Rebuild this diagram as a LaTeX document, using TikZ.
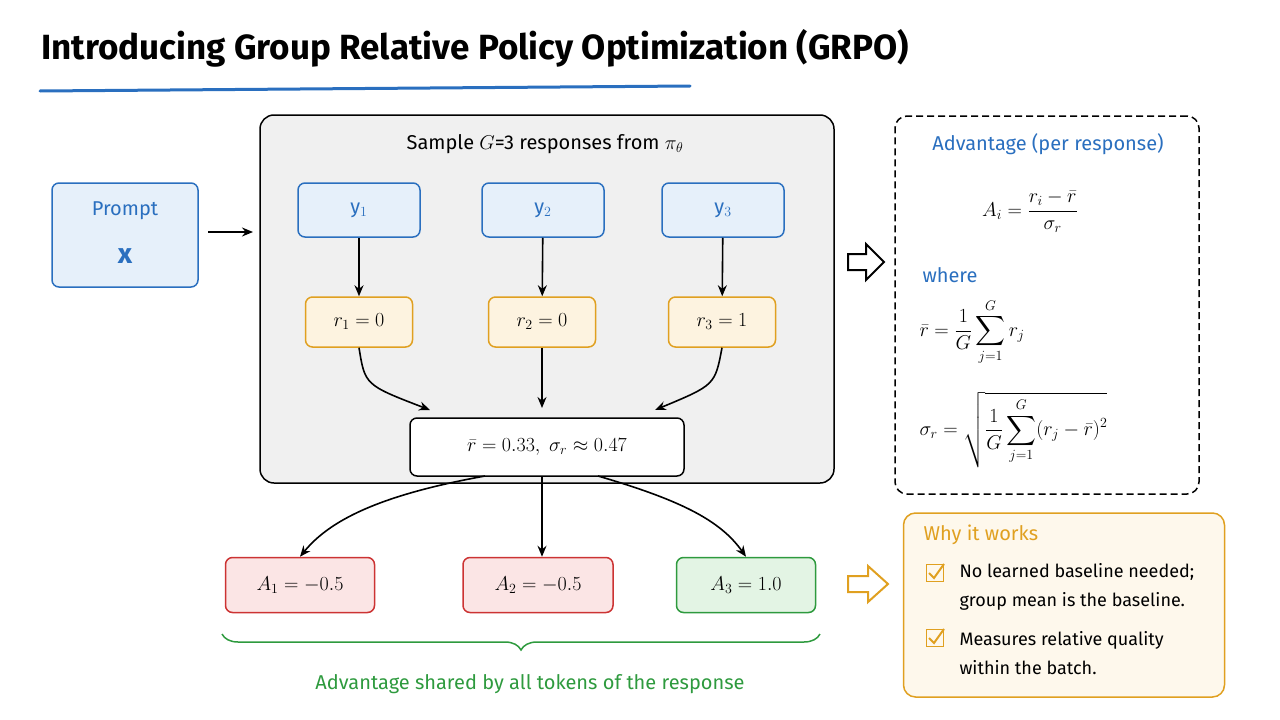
\RequirePackage{fix-cm}
\documentclass[tikz,border=0pt]{standalone}
\usepackage{fontspec}
\setmainfont{Fira Sans}
\usepackage{amsmath}
\usetikzlibrary{decorations.pathreplacing,arrows.meta}
\definecolor{bl}{HTML}{2A6FBF}
\definecolor{blf}{HTML}{E6F0FA}
\definecolor{org}{HTML}{E0A020}
\definecolor{orf}{HTML}{FDF3E0}
\definecolor{rd}{HTML}{CC3333}
\definecolor{rdf}{HTML}{FBE5E5}
\definecolor{gn}{HTML}{2E9A3E}
\definecolor{gnf}{HTML}{E3F4E4}
\definecolor{gy}{HTML}{F0F0F0}
\begin{document}
\begin{tikzpicture}[x=1pt,y=-1pt,
  box/.style={draw,rounded corners=7pt,line width=1.5pt},
  blue box/.style={box,draw=bl,fill=blf},
  or box/.style={box,draw=org,fill=orf},
  red box/.style={box,draw=rd,fill=rdf},
  gr box/.style={box,draw=gn,fill=gnf},
  lbl/.style={font=\fontsize{20}{24}\selectfont},
  arr/.style={-{Stealth[length=11pt,width=9pt]},line width=1.6pt},
  hollow/.style={draw,line width=2pt,line join=miter}]
\useasboundingbox (0,0) rectangle (1280,720);
\node[anchor=west,font=\fontsize{35}{40}\selectfont\bfseries] (title) at (38,48) {Introducing Group Relative Policy Optimization (GRPO)};
\draw[bl,line width=3pt,line cap=round] (40,91) -- (690,86);
% prompt
\node[blue box,minimum width=146pt,minimum height=104pt] (prompt) at (125,235) {};
\node[lbl,text=bl] (ptxt) at (125,211) {Prompt};
\node[font=\fontsize{28}{30}\selectfont\bfseries,text=bl] (px) at (125,256) {x};
% group box
\node[box,draw=black,fill=gy,rounded corners=14pt,minimum width=574pt,minimum height=368pt] (grp) at (547,299) {};
\coordinate (pa) at (208,232);
\coordinate (pb) at (253,232);
\draw[arr] (pa) -- (pb);
\node[lbl] (samp) at (545,144) {Sample $G$=3 responses from $\pi_\theta$};
\foreach \i/\x in {1/359,2/543,3/723}{
  \node[blue box,minimum width=122pt,minimum height=54pt,lbl,text=bl] (y\i) at (\x,210) {y$_\i$};
}
\node[or box,minimum width=107pt,minimum height=50pt,lbl] (r1) at (359,322) {$r_1=0$};
\node[or box,minimum width=107pt,minimum height=50pt,lbl] (r2) at (542,322) {$r_2=0$};
\node[or box,minimum width=107pt,minimum height=50pt,lbl] (r3) at (722,322) {$r_3=1$};
\foreach \i in {1,2,3}{\draw[arr] (y\i) -- (r\i);}
\node[box,draw=black,fill=white,minimum width=274pt,minimum height=58pt,lbl] (st) at (547,447) {$\bar r=0.33,\ \sigma_r\approx0.47$};
\coordinate (s1) at (430,410);
\coordinate (s2) at (542,408);
\coordinate (s3) at (655,410);
\draw[arr] (r1.south) .. controls (365,385) .. (s1);
\draw[arr] (r2.south) -- (s2);
\draw[arr] (r3.south) .. controls (715,385) .. (s3);
% advantages
\node[red box,minimum width=149pt,minimum height=55pt,lbl] (a1) at (300,585) {$A_1=-0.5$};
\node[red box,minimum width=150pt,minimum height=55pt,lbl] (a2) at (538,585) {$A_2=-0.5$};
\node[gr box,minimum width=139pt,minimum height=55pt,lbl] (a3) at (746,585) {$A_3=1.0$};
\coordinate (o1) at (485,476);
\coordinate (o3) at (598,476);
\draw[arr] (o1) .. controls (380,495) and (330,520) .. (a1.north);
\draw[arr] (st.south -| r2) -- (a2.north -| r2);
\draw[arr] (o3) .. controls (680,500) and (720,520) .. (a3.north);
\draw[gn,line width=1.5pt,decorate,decoration={brace,amplitude=16pt,mirror}] (222,634) -- (820,634);
\node[lbl,text=gn] (shared) at (530,684) {Advantage shared by all tokens of the response};
% right panel
\draw[hollow] (848,254) -- (866,254) -- (866,244) -- (884,262) -- (866,280) -- (866,270) -- (848,270) -- cycle;
\node[box,draw=black,dash pattern=on 7pt off 4pt,fill=white,rounded corners=12pt,minimum width=304pt,minimum height=378pt] (adv) at (1047,305) {};
\node[lbl,text=bl] (advt) at (1048,144) {Advantage (per response)};
\node[font=\fontsize{20}{24}\selectfont] (f1) at (1030,212) {$A_i=\dfrac{r_i-\bar r}{\sigma_r}$};
\node[lbl,text=bl] (where) at (950,275) {where};
\node[font=\fontsize{20}{24}\selectfont,anchor=west] (f2) at (916,332) {$\bar r=\dfrac{1}{G}\displaystyle\sum_{j=1}^{G} r_j$};
\node[font=\fontsize{20}{24}\selectfont,anchor=west] (f3) at (916,430) {$\sigma_r=\sqrt{\dfrac{1}{G}\displaystyle\sum_{j=1}^{G}(r_j-\bar r)^2}$};
% why
\draw[hollow,draw=org] (848,576) -- (868,576) -- (868,566) -- (888,584) -- (868,602) -- (868,592) -- (848,592) -- cycle;
\node[box,draw=org,fill=orf!60,rounded corners=12pt,minimum width=321pt,minimum height=184pt] (why) at (1064,605) {};
\node[lbl,text=org,anchor=west] (whyt) at (920,535) {Why it works};
\foreach \yy/\n in {573/c1,638/c2}{
  \node[draw=org,line width=1.5pt,minimum size=17pt,inner sep=0] (\n) at (935,\yy) {};
  \draw[org,line width=2pt] (929,\yy) -- (934,\yy+5) -- (944,\yy-9);
}
\node[anchor=west,align=left,font=\fontsize{18}{29}\selectfont] (w1) at (956,587) {No learned baseline needed;\\group mean is the baseline.};
\node[anchor=west,align=left,font=\fontsize{18}{29}\selectfont] (w2) at (956,653) {Measures relative quality\\within the batch.};
\end{tikzpicture}
\end{document}
